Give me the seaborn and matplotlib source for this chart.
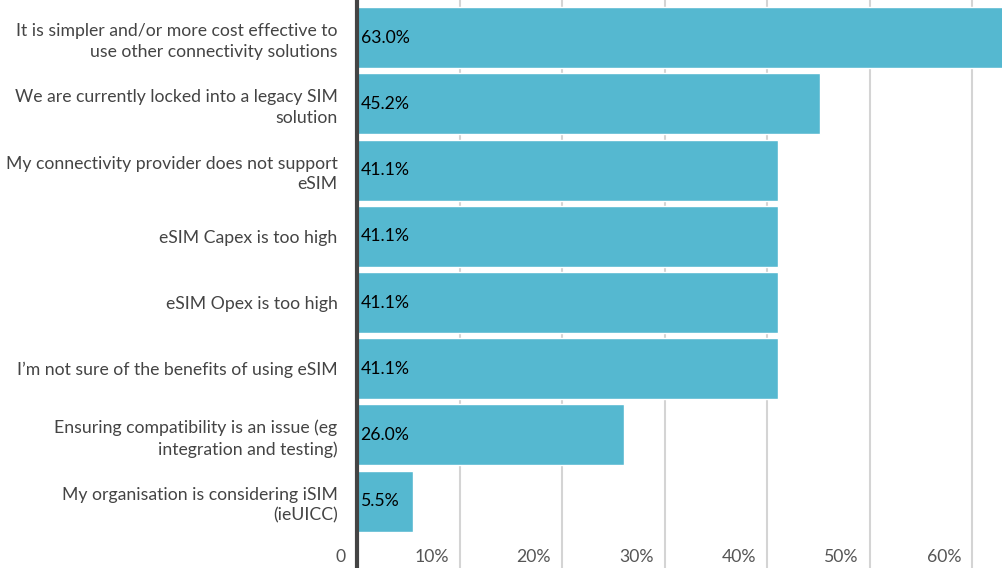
import matplotlib
matplotlib.use("Agg")
import matplotlib.pyplot as plt
import matplotlib.transforms as mtransforms
import seaborn as sns
import pandas as pd

categories = [
    "It is simpler and/or more cost effective to\nuse other connectivity solutions",
    "We are currently locked into a legacy SIM\nsolution",
    "My connectivity provider does not support\neSIM",
    "eSIM Capex is too high",
    "eSIM Opex is too high",
    "I\u2019m not sure of the benefits of using eSIM",
    "Ensuring compatibility is an issue (eg\nintegration and testing)",
    "My organisation is considering iSIM\n(ieUICC)",
]
values = [63.0, 45.2, 41.1, 41.1, 41.1, 41.1, 26.0, 5.5]
x_ticks = [0, 10, 20, 30, 40, 50, 60]
x_tick_labels = ["0", "10%", "20%", "30%", "40%", "50%", "60%"]

df = pd.DataFrame({"reason": categories, "pct": values})

sns.set_theme(style="white")
plt.rcParams["font.family"] = ["Lato", "DejaVu Sans"]

W, H = 1003, 568
fig = plt.figure(figsize=(W / 100, H / 100), dpi=100)
ax = fig.add_axes([357 / W, 0, 1 - 357 / W, 1])

sns.barplot(data=df, x="pct", y="reason", orient="h", color="#55B8D0",
            width=0.92, saturation=1, ax=ax, zorder=2)

ax.set_xlim(0, 63)
ax.set_ylim(8.01, -0.57)
ax.set_xlabel("")
ax.set_ylabel("")

ax.set_xticks(x_ticks)
ax.set_xticklabels(x_tick_labels)
ax.xaxis.grid(True, color="#d4d4d4", linewidth=1.5, zorder=0)
ax.set_axisbelow(True)
ax.tick_params(axis="x", length=0, pad=0, labelsize=12.7, labelcolor="#555555")
offset = mtransforms.ScaledTranslation(-11 / 100, 11 / 100, fig.dpi_scale_trans)
for lab in ax.get_xticklabels():
    lab.set_horizontalalignment("right")
    lab.set_verticalalignment("center")
    lab.set_transform(lab.get_transform() + offset)

ax.tick_params(axis="y", length=0, pad=14, labelsize=12.7, labelcolor="#444444")
for lab in ax.get_yticklabels():
    lab.set_linespacing(1.35)

for s in ["top", "right", "bottom"]:
    ax.spines[s].set_visible(False)
ax.spines["left"].set_color("#444444")
ax.spines["left"].set_linewidth(3)
ax.spines["left"].set_zorder(3)

for i, v in enumerate(values):
    ax.text(0.35, i, f"{v:.1f}%", va="center", ha="left", fontsize=12.7,
            color="#000000", zorder=4)

fig.savefig("out.png", dpi=100)
